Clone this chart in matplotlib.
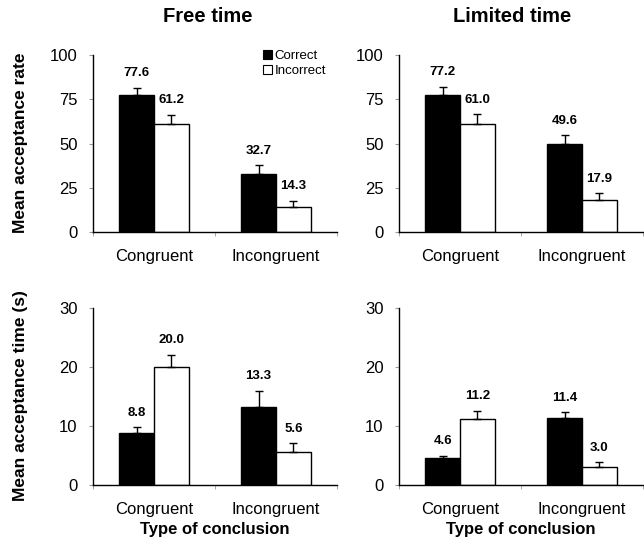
import matplotlib
matplotlib.use("Agg")
import matplotlib.pyplot as plt
import numpy as np
from matplotlib.patches import Patch

plt.rcParams['font.family'] = ['Liberation Sans', 'DejaVu Sans']

categories = ['Congruent', 'Incongruent']
series = ['Correct', 'Incorrect']
panel_titles = ['Free time', 'Limited time']

rate_free_correct = [77.6, 32.7]
rate_free_incorrect = [61.2, 14.3]
rate_free_correct_err = [4.0, 5.1]
rate_free_incorrect_err = [5.0, 3.4]

rate_lim_correct = [77.2, 49.6]
rate_lim_incorrect = [61.0, 17.9]
rate_lim_correct_err = [4.9, 5.1]
rate_lim_incorrect_err = [5.5, 4.1]

time_free_correct = [8.8, 13.3]
time_free_incorrect = [20.0, 5.6]
time_free_correct_err = [1.05, 2.7]
time_free_incorrect_err = [2.1, 1.5]

time_lim_correct = [4.6, 11.4]
time_lim_incorrect = [11.2, 3.0]
time_lim_correct_err = [0.4, 0.9]
time_lim_incorrect_err = [1.4, 0.85]

rate_ticks = [0, 25, 50, 75, 100]
time_ticks = [0, 10, 20, 30]

W, H = 644, 546
fig = plt.figure(figsize=(W / 100, H / 100), dpi=100)

def px_axes(left, top, width, height):
    return fig.add_axes([left / W, 1 - (top + height) / H, width / W, height / H])

panels = [
    (px_axes(93, 55, 244, 177), rate_free_correct, rate_free_incorrect,
     rate_free_correct_err, rate_free_incorrect_err, rate_ticks, False),
    (px_axes(399, 55, 244, 177), rate_lim_correct, rate_lim_incorrect,
     rate_lim_correct_err, rate_lim_incorrect_err, rate_ticks, False),
    (px_axes(93, 308, 244, 177), time_free_correct, time_free_incorrect,
     time_free_correct_err, time_free_incorrect_err, time_ticks, True),
    (px_axes(399, 308, 244, 177), time_lim_correct, time_lim_incorrect,
     time_lim_correct_err, time_lim_incorrect_err, time_ticks, True),
]

bw = 0.285
x = np.arange(len(categories))

for ax, corr, inc, ce, ie, ticks, bottom in panels:
    for vals, errs, fc, off in [(corr, ce, 'black', -bw / 2), (inc, ie, 'white', bw / 2)]:
        xs = x + off
        ax.bar(xs, vals, width=bw, color=fc, edgecolor='black', linewidth=1, zorder=2)
        ax.errorbar(xs, vals, yerr=[np.zeros(len(vals)), errs], fmt='none',
                    ecolor='black', elinewidth=1, capsize=3, capthick=1, zorder=3)
        for xi, v, e in zip(xs, vals, errs):
            ax.annotate(f'{v:.1f}', xy=(xi, v + e), xytext=(0, 6),
                        textcoords='offset points', ha='center', va='bottom',
                        fontsize=9.5, fontweight='bold')
    ax.set_xlim(-0.5, 1.5)
    ax.set_ylim(ticks[0], ticks[-1])
    ax.set_yticks(ticks)
    ax.set_xticks(x)
    ax.set_xticklabels(categories, fontsize=12)
    ax.set_xticks([-0.5, 0.5, 1.5], minor=True)
    ax.tick_params(axis='x', which='major', length=0, pad=12)
    ax.tick_params(axis='x', which='minor', length=3, color='#999999', direction='out')
    ax.tick_params(axis='y', which='major', length=3, color='#999999', labelsize=12, pad=8)
    for s in ['top', 'right']:
        ax.spines[s].set_visible(False)
    for s in ['left', 'bottom']:
        ax.spines[s].set_linewidth(1)
        ax.spines[s].set_color('black')
    if bottom:
        ax.set_xlabel('Type of conclusion', fontsize=12, fontweight='bold', labelpad=4)

ax1 = panels[0][0]
handles = [Patch(facecolor='black', edgecolor='black', linewidth=0.8),
           Patch(facecolor='white', edgecolor='black', linewidth=0.8)]
ax1.legend(handles, series, loc='upper right', bbox_to_anchor=(0.955, 1.03),
           frameon=False, fontsize=9.5, handlelength=0.7, handleheight=0.7,
           handletextpad=0.2, labelspacing=0.2, borderpad=0, borderaxespad=0)

fig.text(208 / W, 1 - 17 / H, panel_titles[0], fontsize=14.5, fontweight='bold',
         ha='center', va='center')
fig.text(512 / W, 1 - 17 / H, panel_titles[1], fontsize=14.5, fontweight='bold',
         ha='center', va='center')
fig.text(21 / W, 1 - 143 / H, 'Mean acceptance rate', fontsize=12.5, fontweight='bold',
         rotation=90, ha='center', va='center')
fig.text(21 / W, 1 - 396 / H, 'Mean acceptance time (s)', fontsize=12.5, fontweight='bold',
         rotation=90, ha='center', va='center')

fig.savefig('out.png', dpi=100, facecolor='white')
